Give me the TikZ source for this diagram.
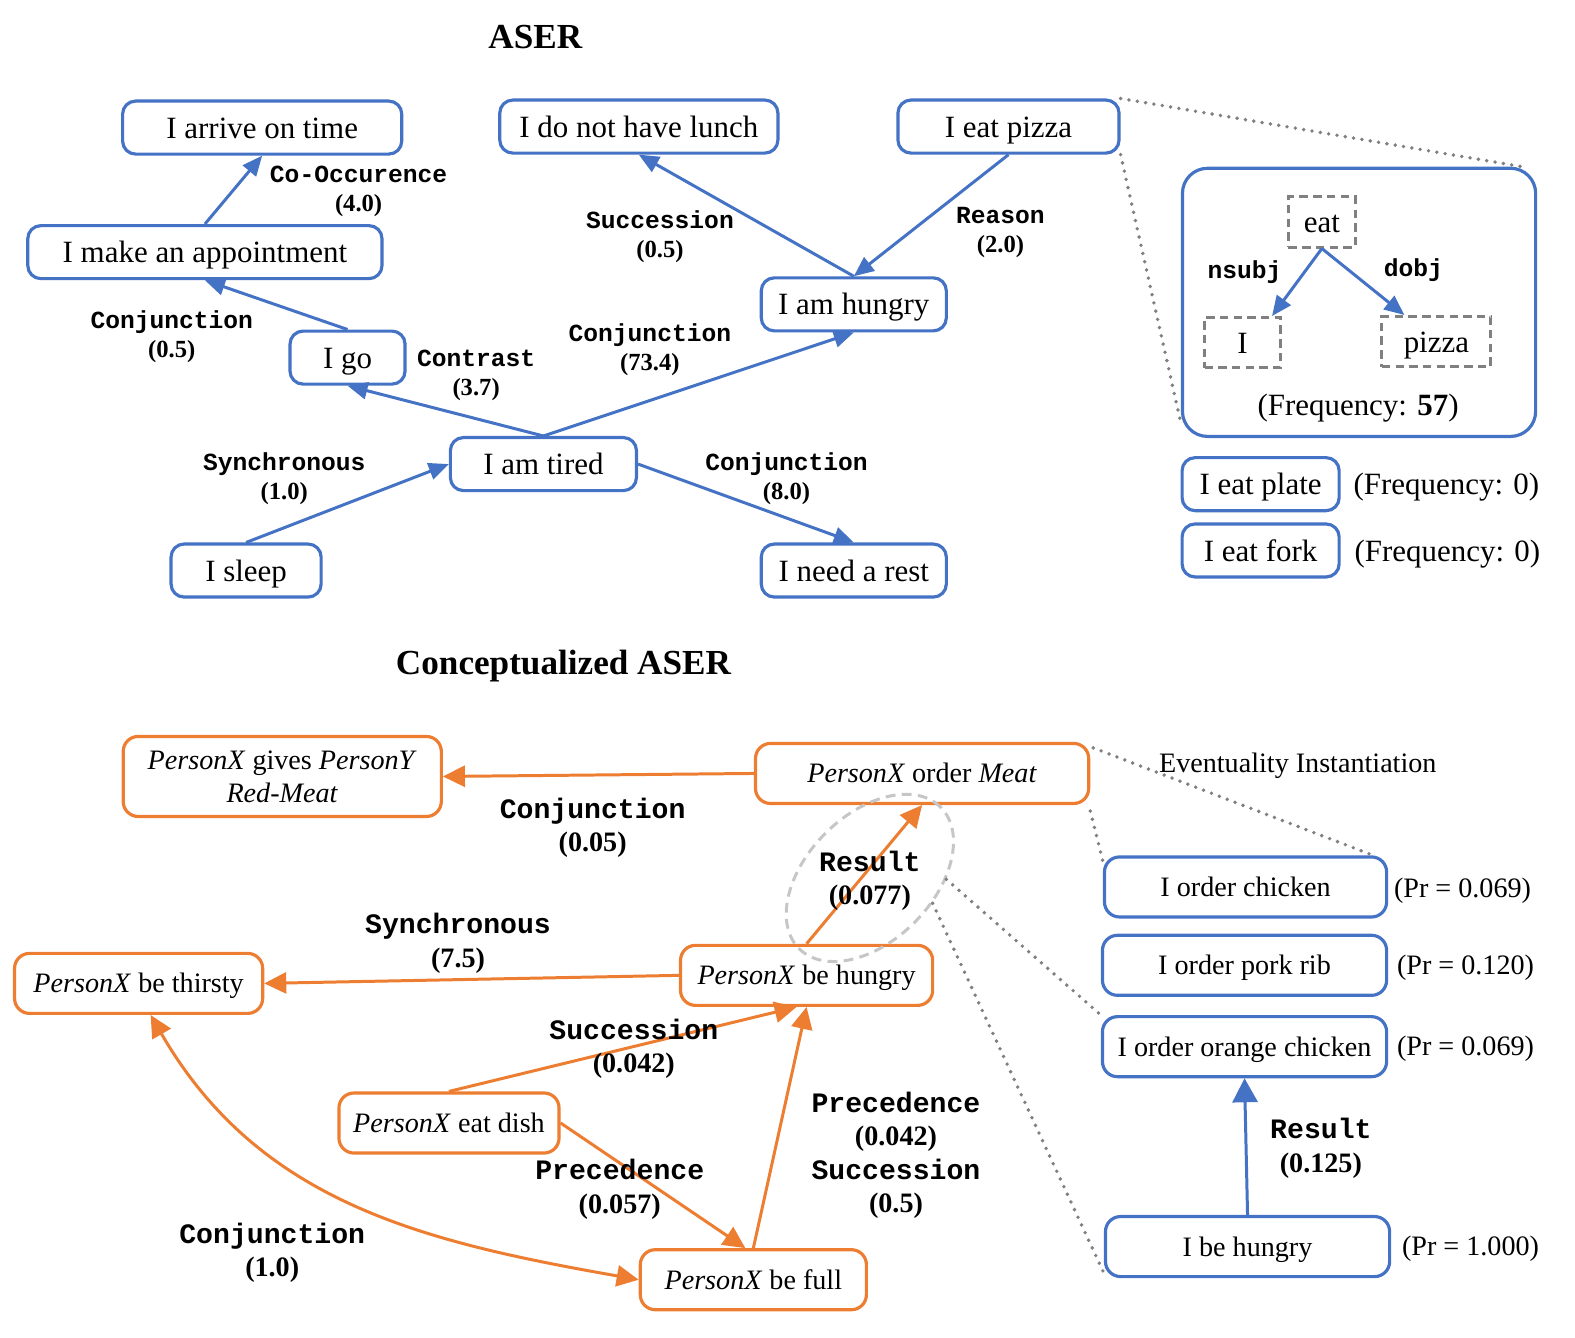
\documentclass[tikz,border=0pt]{standalone}
\usepackage{fontspec}
\setmainfont{Liberation Serif}
\setmonofont{Liberation Mono}
\usepackage{tikz}
\usetikzlibrary{arrows.meta}
\usetikzlibrary{shapes.geometric}
\definecolor{mblue}{RGB}{68,114,196}
\definecolor{morange}{RGB}{237,125,49}
\tikzset{mevent/.style={draw=mblue,line width=0.9pt,rounded corners=0.13cm,inner sep=0pt,minimum height=0.53cm,text height=7pt,text depth=1pt,font=\fontsize{8.8}{10}\selectfont}}
\tikzset{mconcept/.style={draw=morange,line width=0.9pt,rounded corners=0.15cm,inner sep=0pt,minimum height=0.6cm,text height=6.4pt,text depth=1pt,align=center,font=\fontsize{8}{9.4}\selectfont}}
\tikzset{minst/.style={draw=mblue,line width=0.9pt,rounded corners=0.15cm,inner sep=0pt,minimum height=0.6cm,text height=6.4pt,text depth=1pt,font=\fontsize{8}{9.4}\selectfont}}
\tikzset{mword/.style={draw=gray,line width=0.85pt,dash pattern=on 2.4pt off 1.5pt,inner sep=0pt,minimum height=0.5cm,text height=7pt,text depth=1pt,font=\fontsize{8.8}{10}\selectfont}}
\tikzset{mtext/.style={inner sep=0pt,text height=7pt,text depth=1pt,font=\fontsize{8.8}{10}\selectfont}}
\tikzset{mtitle/.style={inner sep=0pt,text height=8pt,text depth=1pt,font=\fontsize{10}{12}\selectfont\bfseries}}
\tikzset{mctext/.style={inner sep=0pt,text height=6.4pt,text depth=1pt,font=\fontsize{8}{9.4}\selectfont}}
\tikzset{mrel/.style={align=center,inner sep=0pt,yshift=-0.025cm,font=\fontsize{7}{8.3}\selectfont\bfseries}}
\tikzset{mcrel/.style={align=center,inner sep=0pt,yshift=-0.02cm,font=\fontsize{8}{9.5}\selectfont\bfseries}}
\tikzset{mlink/.style={draw=mblue,line width=0.85pt,-{Triangle[length=0.2cm,width=0.17cm]}}}
\tikzset{mclink/.style={draw=morange,line width=0.85pt,-{Triangle[length=0.22cm,width=0.21cm]}}}
\tikzset{mdots/.style={draw=gray,line width=1.1pt,line cap=round,dash pattern=on 0pt off 2.4pt}}
\tikzset{mfocus/.style={draw=gray!45,ellipse,line width=0.85pt,dash pattern=on 2.8pt off 1.8pt,inner sep=0pt}}
\begin{document}
\begin{tikzpicture}[x=0.010045cm,y=-0.010045cm]
\useasboundingbox (0,0) rectangle (1568,1332);

\node[mtitle] (title) at (533,36) {ASER};
\node[mtitle] (ctitle) at (561,659) {Conceptualized ASER};

\node[mevent,minimum width=2.79cm] (arrive) at (261,127) {I arrive on time};
\node[mevent,minimum width=3.54cm] (appoint) at (204,251) {I make an appointment};
\node[mevent,minimum width=1.15cm] (go) at (346,356) {I go};
\node[mevent,minimum width=1.86cm] (tired) at (541,462) {I am tired};
\node[mevent,minimum width=1.5cm] (sleep) at (245,568) {I sleep};
\node[mevent,minimum width=1.85cm] (rest) at (850,568) {I need a rest};
\node[mevent,minimum width=2.78cm] (lunch) at (636,126) {I do not have lunch};
\node[mevent,minimum width=2.21cm] (pizza) at (1004,126) {I eat pizza};
\node[mevent,minimum width=1.85cm] (hungry) at (850,303) {I am hungry};

\draw[mlink] (appoint.north) -- (arrive.south);
\draw[mlink] (go.north) -- (appoint.south);
\draw[mlink] (tired.north) -- (go.south);
\draw[mlink] (tired.north) -- (hungry.south);
\draw[mlink] (hungry.north) -- (lunch.south);
\draw[mlink] (pizza.south) -- (hungry.north);
\draw[mlink] (sleep.north) -- (tired.west);
\draw[mlink] (tired.east) -- (rest.north);

\node[mrel] (lcooc) at (357,188) {\texttt{Co-Occurence}\\(4.0)};
\node[mrel] (lconjA) at (171,333) {\texttt{Conjunction}\\(0.5)};
\node[mrel] (lcontr) at (474,371) {\texttt{Contrast}\\(3.7)};
\node[mrel] (lconjB) at (647,346) {\texttt{Conjunction}\\(73.4)};
\node[mrel] (lsucc) at (657,233) {\texttt{Succession}\\(0.5)};
\node[mrel] (lreason) at (996,229) {\texttt{Reason}\\(2.0)};
\node[mrel] (lsync) at (283,474) {\texttt{Synchronous}\\(1.0)};
\node[mrel] (lconjC) at (783,474) {\texttt{Conjunction}\\(8.0)};

\node[mevent,rounded corners=0.25cm,minimum width=3.53cm,minimum height=2.68cm] (tree) at (1353,301) {};
\node[mword,minimum width=0.67cm] (weat) at (1316,221) {eat};
\node[mword,minimum width=0.76cm] (wi) at (1237,341) {I};
\node[mword,minimum width=1.09cm] (wpizza) at (1430,340) {pizza};
\draw[mlink] (weat.south) -- ([xshift=-0.1cm]wi.north east);
\draw[mlink] (weat.south) -- ([xshift=0.24cm]wpizza.north west);
\node[mrel] (nsubj) at (1239,268) {\texttt{nsubj}};
\node[mrel] (dobj) at (1407,266) {\texttt{dobj}};
\node[mtext] (freq) at (1352,403) {(Frequency: \textbf{57})};

\node[mevent,minimum width=1.57cm] (plate) at (1255,482) {I eat plate};
\node[mevent,minimum width=1.57cm] (fork) at (1255,548) {I eat fork};
\node[mtext] (fplate) at (1440,482) {(Frequency: 0)};
\node[mtext] (ffork) at (1441,548) {(Frequency: 0)};

\draw[mdots] (pizza.north east) -- ([xshift=-0.15cm]tree.north east);
\draw[mdots] (pizza.south east) -- ([yshift=0.15cm]tree.south west);

\node[mconcept,minimum width=3.18cm,minimum height=0.8cm,text height={},text depth={}] (gives) at (281,773) {\textit{PersonX} gives \textit{PersonY}\\\textit{Red-Meat}};
\node[mconcept,minimum width=3.33cm] (order) at (918,770) {\textit{PersonX} order \textit{Meat}};
\node[mconcept,minimum width=2.52cm] (pxhungry) at (803,971) {\textit{PersonX} be hungry};
\node[mconcept,minimum width=2.48cm] (thirsty) at (138,979) {\textit{PersonX} be thirsty};
\node[mconcept,minimum width=2.2cm] (dish) at (447,1118) {\textit{PersonX} eat dish};
\node[mconcept,minimum width=2.26cm] (full) at (750,1274) {\textit{PersonX} be full};

\node[mfocus,minimum width=2cm,minimum height=1.26cm,rotate=45] (focus) at (866,874) {};

\draw[mclink] (order.west) -- (gives.east);
\draw[mclink] (pxhungry.north) -- (order.south);
\draw[mclink] (pxhungry.west) -- (thirsty.east);
\draw[mclink] (dish.north) -- ([xshift=-0.1cm]pxhungry.south);
\draw[mclink] (dish.east) -- ([xshift=-0.08cm]full.north);
\draw[mclink] (full.north) -- (pxhungry.south);
\draw[mclink,{Triangle[length=0.22cm,width=0.21cm]}-{Triangle[length=0.22cm,width=0.21cm]}] ([xshift=0.12cm]thirsty.south) to[out=-60,in=170] (full.west);

\node[mcrel] (lcconj) at (590,822) {\texttt{Conjunction}\\(0.05)};
\node[mcrel] (lcres) at (866,875) {\texttt{Result}\\(0.077)};
\node[mcrel] (lcsync) at (456,937) {\texttt{Synchronous}\\(7.5)};
\node[mcrel] (lcsucc) at (631,1042) {\texttt{Succession}\\(0.042)};
\node[mcrel] (lcprec) at (617,1182) {\texttt{Precedence}\\(0.057)};
\node[mcrel] (lcboth) at (892,1148) {\texttt{Precedence}\\(0.042)\\\texttt{Succession}\\(0.5)};
\node[mcrel] (lcconjB) at (271,1245) {\texttt{Conjunction}\\(1.0)};

\node[minst,minimum width=2.82cm] (chicken) at (1240,883) {I order chicken};
\node[minst,minimum width=2.84cm] (pork) at (1239,961) {I order pork rib};
\node[minst,minimum width=2.84cm] (orange) at (1239,1042) {I order orange chicken};
\node[minst,minimum width=2.84cm] (ihungry) at (1242,1241) {I be hungry};
\node[mctext] (prA) at (1456,884) {(Pr = 0.069)};
\node[mctext] (prB) at (1459,961) {(Pr = 0.120)};
\node[mctext] (prC) at (1459,1041) {(Pr = 0.069)};
\node[mctext] (prD) at (1464,1240) {(Pr = 1.000)};
\node[mctext] (inst) at (1292,760) {Eventuality Instantiation};

\draw[mlink,-{Triangle[length=0.24cm,width=0.25cm]}] (ihungry.north) -- (orange.south);
\node[mcrel] (lires) at (1315,1141) {\texttt{Result}\\(0.125)};

\draw[mdots] ([xshift=0.03cm,yshift=-0.06cm]order.north east) -- ([xshift=-0.15cm]chicken.north east);
\draw[mdots] ([yshift=-0.06cm]order.south east) -- ([yshift=-0.06cm]chicken.north west);
\draw[mdots] (focus.-46) -- (orange.north west);
\draw[mdots] (focus.-67) -- ([yshift=0.05cm]ihungry.south west);

\end{tikzpicture}
\end{document}
